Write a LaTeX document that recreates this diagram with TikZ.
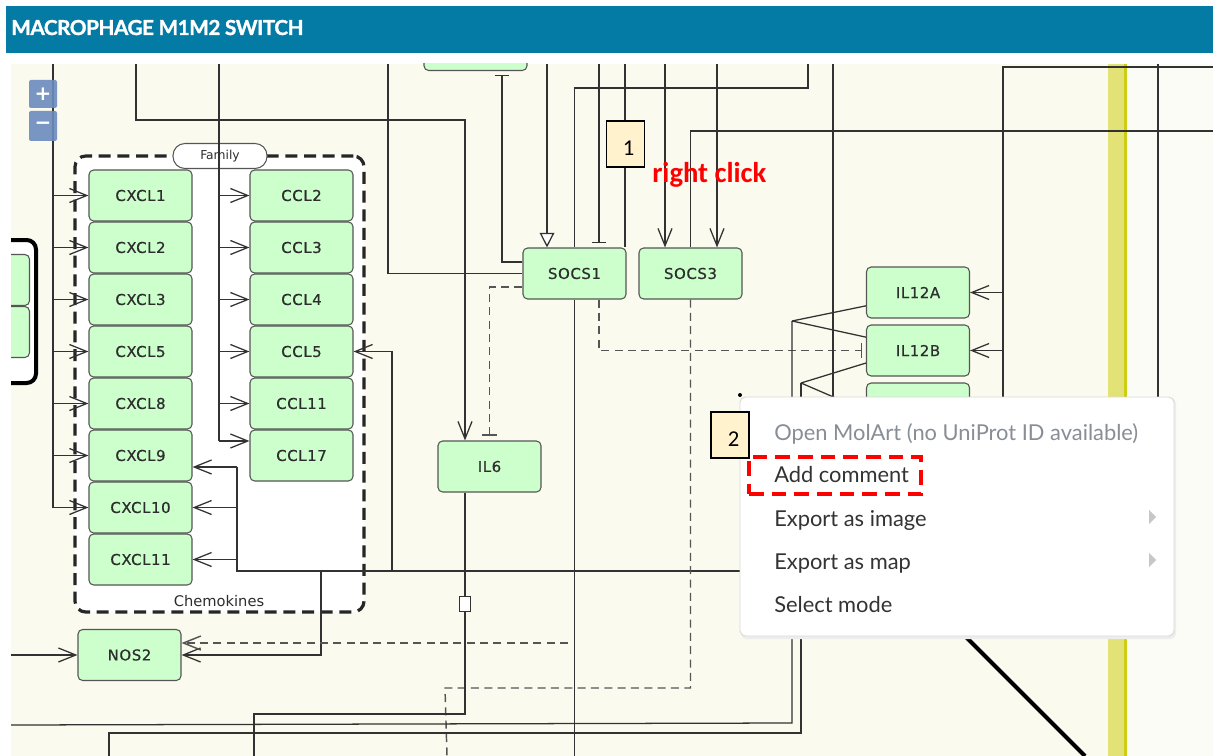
\documentclass[tikz,border=0pt]{standalone}
\usepackage{fontspec}
\usetikzlibrary{arrows.meta,calc}
\newfontfamily\dv{DejaVu Sans}[LetterSpace=4, FakeBold=0.6]
\newfontfamily\dvp{DejaVu Sans}
\newfontfamily\lato{Lato}
\newfontfamily\latoh{Lato}[FakeBold=1.4, LetterSpace=-2]
\newfontfamily\carl{Carlito}
\definecolor{hdr}{RGB}{4,123,165}
\definecolor{canvas}{RGB}{250,250,238}
\definecolor{canvasR}{RGB}{252,252,246}
\definecolor{gfill}{RGB}{204,255,204}
\definecolor{gdraw}{RGB}{85,85,85}
\definecolor{lc}{RGB}{50,50,50}
\definecolor{dc}{RGB}{85,85,85}
\definecolor{txt}{RGB}{45,45,45}
\definecolor{btn}{RGB}{108,140,190}
\definecolor{yband}{RGB}{226,226,118}
\definecolor{yedge}{RGB}{205,205,20}
\definecolor{note}{RGB}{255,242,204}
\definecolor{menutxt}{RGB}{51,51,51}
\definecolor{menugray}{RGB}{135,142,150}
\tikzset{
 gbox/.style={draw=gdraw, fill=gfill, line width=0.8pt, rounded corners=3.5pt, minimum width=77.25pt, minimum height=38.25pt, inner sep=0pt, text=txt, font=\dv\fontsize{11.2}{12}\selectfont},
 ln/.style={draw=lc, line width=0.95pt},
 arr/.style={ln, -{Straight Barb[length=13pt,width=10.5pt]}},
 inh/.style={ln, -{Bar[width=11pt]}},
 dsh/.style={draw=dc, line width=1.1pt, dash pattern=on 6pt off 4pt},
 notebox/.style={draw=black, fill=note, line width=0.8pt, minimum width=28.5pt, minimum height=34.5pt, inner sep=0pt},
 notetxt/.style={anchor=base east, font=\carl\fontsize{17}{17}\selectfont},
 menuitem/.style={anchor=base west, text=menutxt, font=\lato\fontsize{16.4}{17}\selectfont, inner sep=0pt},
}
\begin{document}
\begin{tikzpicture}[x=0.75pt,y=-0.75pt]
\useasboundingbox (0,0) rectangle (1213,756);
\fill[white] (0,0) rectangle (1213,756);
\fill[hdr] (6,6) rectangle (1213,53);
\node[anchor=base west, text=white, inner sep=0pt, font=\latoh\bfseries\fontsize{15.5}{16}\selectfont] (title) at (11,35) {MACROPHAGE M1M2 SWITCH};
\fill[canvas] (11,64) rectangle (1213,756);
\fill[canvasR] (1127,64) rectangle (1213,756);
\begin{scope}
\clip (11,64) rectangle (1213,756);
% yellow band
\fill[yband] (1108,64) rectangle (1127,756);
\fill[yedge] (1124,64) rectangle (1127,756);
% left compartment
\node[draw=black, line width=3pt, rounded corners=7pt, fill=white, minimum width=79.5pt, minimum height=107.25pt, inner sep=0pt] (comp) at (-17,311.5) {};
\node[gbox] (lb1) at (-22,280) {};
\node[gbox] (lb2) at (-22,332) {};
% family box
\node[draw=black!85, fill=white, line width=2.4pt, dash pattern=on 9pt off 5pt, rounded corners=8pt, minimum width=216.75pt, minimum height=342pt, inner sep=0pt] (fam) at (219.5,384) {};
\node[draw=gdraw, fill=white, line width=0.8pt, rounded corners=9pt, minimum width=70.5pt, minimum height=18.75pt, inner sep=0pt, text=txt, font=\dvp\fontsize{9.2}{10}\selectfont] (famlbl) at (220,156) {Family};
\node[text=txt, inner sep=0pt, font=\dvp\fontsize{11}{11}\selectfont] (chemlbl) at (219,601) {Chemokines};
% partial top box
\node[gbox] (tb) at (475.5,45) {};
% green boxes
\node[gbox] (c1) at (140.5,195.5) {CXCL1};
\node[gbox] (c2) at (140.5,247.5) {CXCL2};
\node[gbox] (c3) at (140.5,299.5) {CXCL3};
\node[gbox] (c5) at (140.5,351.5) {CXCL5};
\node[gbox] (c8) at (140.5,403.5) {CXCL8};
\node[gbox] (c9) at (140.5,455.5) {CXCL9};
\node[gbox] (c10) at (140.5,507.5) {CXCL10};
\node[gbox] (c11) at (140.5,559.5) {CXCL11};
\node[gbox] (k2) at (301.5,195.5) {CCL2};
\node[gbox] (k3) at (301.5,247.5) {CCL3};
\node[gbox] (k4) at (301.5,299.5) {CCL4};
\node[gbox] (k5) at (301.5,351.5) {CCL5};
\node[gbox] (k11) at (301.5,403.5) {CCL11};
\node[gbox] (k17) at (301.5,455.5) {CCL17};
\node[gbox] (nos) at (129.5,655) {NOS2};
\node[gbox] (il6) at (489.5,466.5) {IL6};
\node[gbox] (s1) at (574.5,273.5) {SOCS1};
\node[gbox] (s3) at (690.5,273.5) {SOCS3};
\node[gbox] (ia) at (918,292.5) {IL12A};
\node[gbox] (ib) at (918,350.5) {IL12B};
\node[gbox] (ic) at (918,408.5) {};
% left trunk
\coordinate (LT) at (53,64);
\coordinate (LM) at (53,420);
\coordinate (LB) at (53,507.5);
\draw[ln, line width=1.8pt] (LT) -- (LM);
\draw[ln] (LM) -- (LB);
\foreach \n in {c1,c2,c3,c5,c8,c9,c10} \draw[arr] (\n.west -| LT) -- (\n.west);
% CCL trunk
\coordinate (CT) at (219,64);
\coordinate (CB) at (219,441);
\draw[ln] (CT) -- (CB);
\foreach \n in {k2,k3,k4,k5,k11} \draw[arr] (\n.west -| CT) -- (\n.west);
\draw[arr] (CB) -- (CB -| k17.west);
% right trunk into CXCL9-11
\coordinate (R1) at (237,467);
\coordinate (R2) at (237,571);
\coordinate (R3) at (760,571);
\draw[ln] (R1) -- (R2) -- (R3);
\draw[arr] (R1) -- (R1 -| c9.east);
\draw[arr] (c10.east -| R1) -- (c10.east);
\draw[arr] (c11.east -| R1) -- (c11.east);
% CCL5
\coordinate (Q5) at (392,571);
\draw[arr] (Q5) |- (k5.east);
% NOS2
\coordinate (N1) at (321,571);
\draw[arr] (N1) |- (nos.east);
\coordinate (N2) at (568,643);
\draw[dsh, -{Straight Barb[length=13pt,width=10.5pt]}] (N2) -- (N2 -| nos.east);
\coordinate (N3) at (11,655);
\draw[arr] (N3) -- (nos.west);
% top box inhibited
\coordinate (T1) at (502,75);
\draw[inh] ([yshift=8.6pt]s1.west) -| (T1);
% x=136 -> IL6
\coordinate (A1) at (136,64);
\coordinate (A2) at (465,120);
\draw[arr] (A1) |- (A2) -- (A2 |- il6.north);
% x=388 -> SOCS1
\coordinate (B1) at (388,64);
\draw[ln] (B1) |- (s1.west);
% SOCS1 -| IL6 dashed
\draw[dsh, -{Bar[width=11pt]}, shorten >=3.5pt] ([yshift=-10.1pt]s1.west) -| (il6.north);
% into SOCS1
\coordinate (S1a) at (547,64);
\draw[ln, -{Triangle[length=11pt,width=11pt,fill=white]}] (S1a) -- (S1a |- s1.north);
\coordinate (S1b) at (574.5,88);
\coordinate (S1b2) at (808,64);
\draw[ln] (S1b2) |- (S1b) -- (s1.north);
\coordinate (S1c) at (599,64);
\draw[inh, shorten >=3pt] (S1c) -- (S1c |- s1.north);
\coordinate (S1d) at (625,64);
\draw[ln] (S1d) -- (S1d |- s1.north);
% into SOCS3
\coordinate (S3a) at (665,64);
\draw[arr] (S3a) -- (S3a |- s3.north);
\coordinate (S3b) at (1213,131);
\draw[ln] (S3b) -| (s3.north);
\coordinate (S3c) at (717,64);
\draw[arr] (S3c) -- (S3c |- s3.north);
% SOCS1 down
\coordinate (S1e) at (574.5,756);
\draw[ln] (s1.south) -- (S1e);
% SOCS1 dashed to IL12B
\draw[dsh, -{Bar[width=11pt]}, shorten >=3pt] (s1.south -| S1c) |- (ib.west);
% SOCS3 dashed down
\coordinate (D2) at (445,688);
\coordinate (D3) at (447,756);
\draw[dsh] (s3.south) |- (D2) -- (D3);
% IL6 down
\node[draw=lc, fill=white, line width=0.8pt, minimum width=8pt, minimum height=11pt, inner sep=0pt] (sq) at (465,604) {};
\draw[ln] (il6.south -| A2) -- (sq.north);
\coordinate (E1) at (465,714);
\coordinate (E2) at (254,756);
\draw[ln] (sq.south) -- (E1) -| (E2);
% bottom long lines to IL12
\coordinate (F1) at (11,725);
\coordinate (Fc) at (792,723);
\coordinate (F2) at (792,321);
\draw[ln] (F1) -- (Fc) -- (F2);
\draw[ln] (F2) -- ([yshift=-10pt]ia.west);
\draw[ln] (F2) -- ([yshift=10pt]ib.west);
\coordinate (H0) at (109,756);
\coordinate (H1) at (109,733);
\coordinate (Hc) at (801,733);
\coordinate (H2) at (801,383);
\draw[ln] (H0) -- (H1) -- (Hc) -- (H2);
\draw[ln] (H2) -- ([yshift=-9.4pt]ib.west);
\draw[ln] (H2) -- ([yshift=-1.9pt]ic.west);
% x=833
\coordinate (V1) at (833,64);
\coordinate (V2) at (833,560);
\draw[ln] (V1) -- (V2);
% right x=1003
\coordinate (G1) at (1213,67);
\coordinate (G2) at (1003,67);
\coordinate (G3) at (1003,600);
\draw[ln] (G1) -- (G2) -- (G3);
\draw[arr] (ia.east -| G2) -- (ia.east);
\draw[arr] (ib.east -| G2) -- (ib.east);
% x=1158
\coordinate (K1) at (1158,64);
\coordinate (K2) at (1158,600);
\draw[ln] (K1) -- (K2);
% diagonal
\coordinate (X1) at (900,571);
\coordinate (X2) at (1085,756);
\draw[black, line width=3pt] (X1) -- (X2);
% zoom buttons
\node[fill=btn, opacity=0.9, text opacity=1, minimum width=21pt, minimum height=21pt, inner sep=0pt, rounded corners=1.5pt, text=white, font=\dvp\bfseries\fontsize{15}{15}\selectfont] (zin) at (43,94) {+};
\node[fill=btn, opacity=0.9, text opacity=1, minimum width=21pt, minimum height=22.5pt, inner sep=0pt, rounded corners=1.5pt, text=white, font=\dvp\bfseries\fontsize{15}{15}\selectfont] (zout) at (43,126) {−};
\end{scope}
% context menu
\fill[black!7, rounded corners=4pt] (741,398) rectangle (1176,639);
\node[draw=black!15, fill=white, line width=0.7pt, rounded corners=4pt, minimum width=325.5pt, minimum height=179.25pt, inner sep=0pt] (menu) at (957,516.5) {};
\node[menuitem, text=menugray] (m1) at (774,440) {Open MolArt (no UniProt ID available)};
\node[menuitem] (m2) at (774,482) {Add comment};
\node[menuitem] (m3) at (774,526) {Export as image};
\node[menuitem] (m4) at (774,569) {Export as map};
\node[menuitem] (m5) at (774,612) {Select mode};
\fill[black!22] (1149,510) -- (1156,517) -- (1149,524) -- cycle;
\fill[black!22] (1149,553) -- (1156,560) -- (1149,567) -- cycle;
\node[draw=red, line width=3pt, dash pattern=on 11pt off 6pt, minimum width=129pt, minimum height=27.75pt, inner sep=0pt] (hl) at (835,475.5) {};
\fill[black] (740,395) circle (2);
% notes
\node[notebox] (n1) at (625.5,144) {};
\node[notetxt] (n1t) at (639,156) {1};
\node[notebox] (n2) at (730,435) {};
\node[notetxt] (n2t) at (744,446) {2};
\node[anchor=base west, text=red, inner sep=0pt, font=\carl\bfseries\fontsize{21.5}{22}\selectfont] (rc) at (652,183) {right click};
\end{tikzpicture}
\end{document}
